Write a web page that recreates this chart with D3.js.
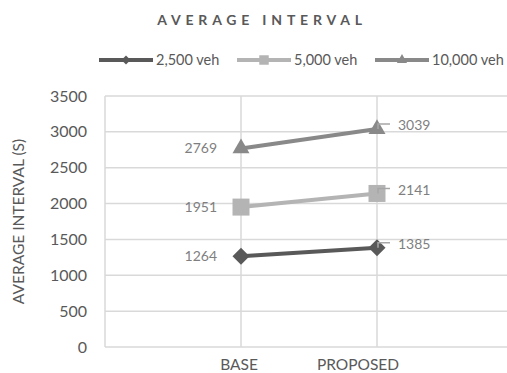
<!DOCTYPE html>
<html>
<head>
<meta charset="utf-8">
<script src="https://cdn.jsdelivr.net/npm/d3@7"></script>
<style>
  body { margin: 0; background: #fff; }
  svg { display: block; font-family: Lato, "Open Sans", sans-serif; }
</style>
</head>
<body>
<svg width="507" height="373"></svg>
<script>
// chart values
var categories = ['BASE', 'PROPOSED'];
var seriesNames = ['2,500 veh', '5,000 veh', '10,000 veh'];
var veh2500 = [1264, 1385];
var veh5000 = [1951, 2141];
var veh10000 = [2769, 3039];
var yTickValues = [0, 500, 1000, 1500, 2000, 2500, 3000, 3500];

var width = 507;
var height = 373;

var series = [
  { name: seriesNames[0], values: veh2500, color: '#595959', shape: 'diamond' },
  { name: seriesNames[1], values: veh5000, color: '#b4b4b4', shape: 'square' },
  { name: seriesNames[2], values: veh10000, color: '#898989', shape: 'triangle' }
];

var svg = d3.select('svg');

// categories sit on grid lines 1 and 2 of 0..3
var xScale = d3.scaleLinear()
                .domain([0, 3])
                .range([105, 513]);

var yScale = d3.scaleLinear()
                .domain([0, 3500])
                .range([347, 96]);

// horizontal grid
svg.append('g')
  .selectAll('line')
  .data(yTickValues)
  .enter()
  .append('line')
    .attr('x1', xScale(0))
    .attr('x2', width)
    .attr('y1', d => yScale(d))
    .attr('y2', d => yScale(d))
    .attr('stroke', '#d9d9d9')
    .attr('stroke-width', 1.5);

// vertical grid
svg.append('g')
  .selectAll('line')
  .data([0, 1, 2, 3])
  .enter()
  .append('line')
    .attr('x1', d => xScale(d))
    .attr('x2', d => xScale(d))
    .attr('y1', yScale(3500))
    .attr('y2', yScale(0))
    .attr('stroke', '#d9d9d9')
    .attr('stroke-width', 1.5);

// y tick labels
var yAxis = d3.axisLeft(yScale)
              .tickValues(yTickValues)
              .tickFormat(d3.format('d'))
              .tickSize(0)
              .tickPadding(18);

svg.append('g')
    .attr('transform', 'translate(' + xScale(0) + ',0)')
    .call(yAxis)
    .call(g => g.select('.domain').remove())
    .call(g => g.selectAll('text')
      .attr('fill', '#595959')
      .style('font-family', 'Lato')
      .style('font-size', '16px'));

// category labels
svg.append('g')
  .selectAll('text')
  .data(categories)
  .enter()
  .append('text')
    .attr('x', (d, i) => xScale(i + 1))
    .attr('dx', (d, i) => i === 1 ? -19 : -2)
    .attr('y', 370)
    .attr('text-anchor', 'middle')
    .attr('fill', '#595959')
    .style('font-size', '15.5px')
    .text(d => d);

var line = d3.line()
              .x((d, i) => xScale(i + 1))
              .y(d => yScale(d));

function symbolFor(shape, big) {
  if (shape === 'diamond') return d3.symbol().type(d3.symbolSquare).size(big ? 144 : 40)();
  if (shape === 'square') return d3.symbol().type(d3.symbolSquare).size(big ? 289 : 90)();
  return d3.symbol().type(d3.symbolTriangle).size(big ? 125 : 45)();
}

var groups = svg.append('g')
  .selectAll('g')
  .data(series)
  .enter()
  .append('g');

groups.append('path')
    .attr('d', d => line(d.values))
    .attr('fill', 'none')
    .attr('stroke', d => d.color)
    .attr('stroke-width', 4);

groups.selectAll('.marker')
  .data(d => d.values.map((v, i) => ({ v: v, i: i, s: d })))
  .enter()
  .append('path')
    .attr('class', 'marker')
    .attr('d', d => symbolFor(d.s.shape, true))
    .attr('transform', d => 'translate(' + xScale(d.i + 1) + ',' + yScale(d.v) + ')' +
      (d.s.shape === 'diamond' ? ' rotate(45)' : ''))
    .attr('fill', d => d.s.color);

// data labels, BASE on the left
groups.append('text')
    .attr('x', xScale(1) - 24)
    .attr('y', d => yScale(d.values[0]))
    .attr('dy', '0.35em')
    .attr('text-anchor', 'end')
    .attr('fill', '#7f7f7f')
    .style('font-size', '14px')
    .text(d => d.values[0]);

// PROPOSED labels on the right, with leader lines
groups.append('path')
    .attr('d', d => {
      var px = xScale(2) + 1;
      var py = yScale(d.values[1]);
      return 'M' + px + ',' + py + 'V' + (py - 5) + 'H' + (px + 12);
    })
    .attr('fill', 'none')
    .attr('stroke', '#a6a6a6')
    .attr('stroke-width', 1.5);

groups.append('text')
    .attr('x', xScale(2) + 21)
    .attr('y', d => yScale(d.values[1]) - 3.5)
    .attr('dy', '0.35em')
    .attr('fill', '#7f7f7f')
    .style('font-size', '14px')
    .text(d => d.values[1]);

// y axis title
svg.append('text')
  .attr('transform', 'rotate(-90)')
  .attr('x', -(yScale(0) + yScale(3500)) / 2)
  .attr('y', 19)
  .attr('dy', '0.35em')
  .attr('text-anchor', 'middle')
  .attr('fill', '#595959')
  .style('font-size', '15.5px')
  .text('AVERAGE INTERVAL (S)');

// title
svg.append('text')
  .attr('x', 262)
  .attr('y', 25)
  .attr('text-anchor', 'middle')
  .attr('fill', '#595959')
  .style('font-size', '14px')
  .style('font-weight', 'bold')
  .style('letter-spacing', '4.8px')
  .text('AVERAGE INTERVAL');

// legend
var legendX = [99, 237, 375];
var legend = svg.append('g')
  .selectAll('g')
  .data(series)
  .enter()
  .append('g')
    .attr('transform', (d, i) => 'translate(' + legendX[i] + ',60)');

legend.append('line')
    .attr('x1', 0)
    .attr('x2', 54)
    .attr('stroke', d => d.color)
    .attr('stroke-width', 4);

legend.append('path')
    .attr('d', d => symbolFor(d.shape, false))
    .attr('transform', d => 'translate(27,0)' + (d.shape === 'diamond' ? ' rotate(45)' : ''))
    .attr('fill', d => d.color);

legend.append('text')
    .attr('x', 57)
    .attr('dy', '0.35em')
    .attr('fill', '#595959')
    .style('font-size', '14.5px')
    .text(d => d.name);
</script>
</body>
</html>
